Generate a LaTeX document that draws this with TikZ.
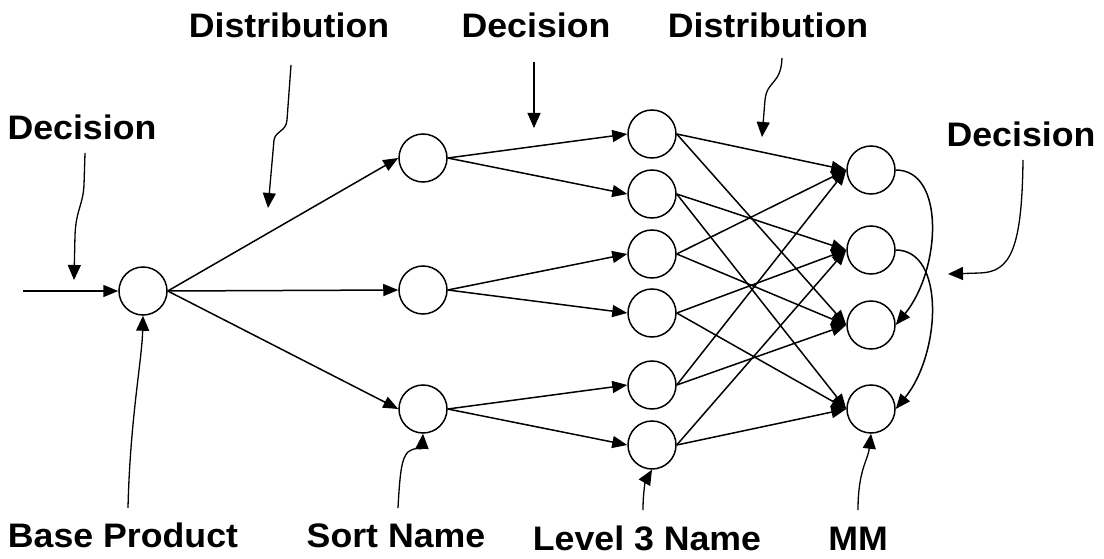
\documentclass[tikz,border=0pt]{standalone}
\usepackage{fontspec}
\newfontfamily\lblfont{Liberation Sans}[FakeStretch=1.05]
\usetikzlibrary{arrows.meta}
\begin{document}
\begin{tikzpicture}[x=1pt,y=-1pt,
  state/.style={circle,draw,line width=1.5pt,minimum size=48pt,inner sep=0pt},
  flow/.style={line width=1.5pt,-{Triangle[length=15pt,width=12pt]}},
  note/.style={line width=1.3pt,-{Triangle[length=15pt,width=13pt]}},
  lbl/.style={font=\lblfont\bfseries\fontsize{34}{36}\selectfont,anchor=base,inner sep=0pt}]
\useasboundingbox (0,0) rectangle (1104,559);

% base product
\node[state] (b) at (143,291) {};
\coordinate (src) at (23,291);
% sort names
\node[state] (s1) at (423,158) {};
\node[state] (s2) at (423,290) {};
\node[state] (s3) at (423,409) {};
% level 3 names
\node[state] (l1) at (652,134) {};
\node[state] (l2) at (652,194) {};
\node[state] (l3) at (652,254) {};
\node[state] (l4) at (652,313) {};
\node[state] (l5) at (652,385) {};
\node[state] (l6) at (652,445) {};
% MM
\node[state] (m1) at (871,170) {};
\node[state] (m2) at (871,250) {};
\node[state] (m3) at (871,325) {};
\node[state] (m4) at (871,409) {};

% flows
\draw[flow] (src) -- (b.west);
\foreach \t in {s1,s2,s3} \draw[flow] (b.east) -- (\t.west);
\draw[flow] (s1.east) -- (l1.west);
\draw[flow] (s1.east) -- (l2.west);
\draw[flow] (s2.east) -- (l3.west);
\draw[flow] (s2.east) -- (l4.west);
\draw[flow] (s3.east) -- (l5.west);
\draw[flow] (s3.east) -- (l6.west);
\foreach \s in {l1,l3,l5} {
  \draw[flow] (\s.east) -- (m1.west);
  \draw[flow] (\s.east) -- (m3.west);
}
\foreach \s in {l2,l4,l6} {
  \draw[flow] (\s.east) -- (m2.west);
  \draw[flow] (\s.east) -- (m4.west);
}
\draw[flow] (m1.east) .. controls +(50,0) and +(45,-55) .. (m3.east);
\draw[flow] (m2.east) .. controls +(50,0) and +(45,-55) .. (m4.east);

% labels
\node[lbl] (tdec1) at (82,140) {Decision};
\node[lbl] (tdis1) at (289,38) {Distribution};
\node[lbl] (tdec2) at (536,38) {Decision};
\node[lbl] (tdis2) at (768,38) {Distribution};
\node[lbl] (tdec3) at (1021,147) {Decision};
\node[lbl] (tbp) at (123,547) {Base Product};
\node[lbl] (tsn) at (396,547) {Sort Name};
\node[lbl] (tl3) at (647,550) {Level 3 Name};
\node[lbl] (tmm) at (858,550) {MM};

% pointer lines
\coordinate (p1) at (85,153);
\coordinate (p2) at (291,65);
\coordinate (p3) at (534,62);
\coordinate (p4) at (782,58);
\coordinate (p5) at (1023,160);
\coordinate (p6) at (128,508);
\coordinate (p7) at (398,508);
\coordinate (p8) at (643,510);
\coordinate (p9) at (858,510);
\coordinate (a1) at (74,280);
\coordinate (a2) at (268,208);
\coordinate (a3) at (534,128);
\coordinate (a4) at (762,137);
\coordinate (a5) at (948,274);

\draw[note] (p1) -- (84,185) .. controls (83,205) and (76,210) .. (75,235) -- (a1);
\draw[note] (p2) -- (287,120) .. controls (286,132) and (276,130) .. (274,140) -- (a2);
\draw[note] (p3) -- (a3);
\draw[note] (p4) .. controls (781,85) and (767,80) .. (765,100) -- (a4);
\draw[note] (p5) .. controls (1022,250) and (1010,272) .. (980,273) -- (a5);
\draw[note] (p6) .. controls (130,420) and (142,360) .. (b.south);
\draw[note] (p7) .. controls (400,470) and (402,458) .. (408,452) .. controls (416,446) and (422,450) .. (s3.south);
\draw[note] (p8) .. controls (643,490) and (646,480) .. (l6.south);
\draw[note] (p9) .. controls (858,470) and (868,460) .. (m4.south);
\end{tikzpicture}
\end{document}
